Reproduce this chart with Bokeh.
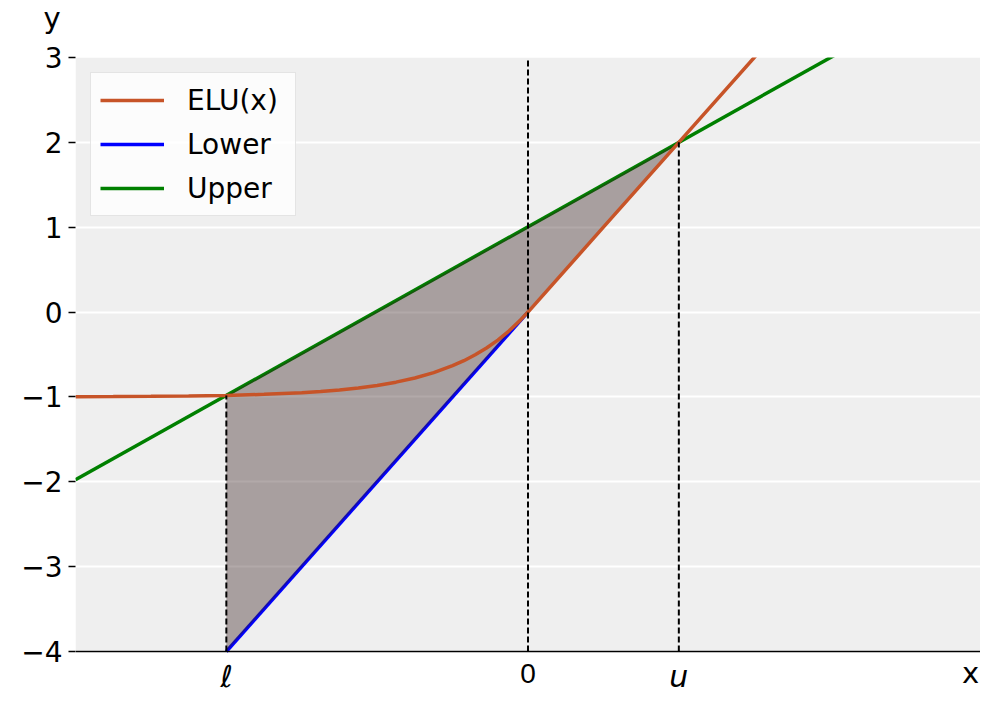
from bokeh.plotting import figure
from bokeh.models import (Range1d, LinearAxis, FixedTicker, Label, Legend, LegendItem,
                          Span, Title)
from bokeh.embed import file_html
from bokeh.resources import INLINE

# ---- data ----
elu_x = [-6.0, -5.5, -5.0, -4.5, -4.0, -3.5, -3.0, -2.75, -2.5, -2.25, -2.0, -1.75,
         -1.5, -1.25, -1.0, -0.85, -0.7, -0.55, -0.4, -0.25, -0.1, 0.0, 1.0, 2.0, 3.0, 6.0]
elu_y = [-0.998, -0.996, -0.993, -0.989, -0.982, -0.970, -0.950, -0.936, -0.918, -0.895,
         -0.865, -0.826, -0.777, -0.713, -0.632, -0.573, -0.503, -0.423, -0.330, -0.221,
         -0.095, 0.0, 1.0, 2.0, 3.0, 6.0]
lower_x = [-4.0, 0.0]
lower_y = [-4.0, 0.0]
upper_x = [-6.0, 6.0]
upper_y = [-1.976, 3.988]
shade_x = [-4.0, -4.0, 2.0]
shade_y = [-4.0, -0.982, 2.0]
vline_x = [-4.0, 0.0, 2.0]
vline_y0 = [-4.0, -4.0, -4.0]
vline_y1 = [-0.982, 3.0, 2.0]
xtick_values = [-4.0, 0.0, 2.0]
xtick_labels = ["ℓ", "0", "u"]
ytick_values = [-4, -3, -2, -1, 0, 1, 2, 3]
ytick_labels = ["−4", "−3", "−2", "−1", "0", "1", "2", "3"]
x_min, x_max = -6.0, 6.0
y_min, y_max = -4.0, 3.0

# frame extends below y_min so that the x tick texts sit inside it
y_pad_below = 0.507

p = figure(width=980, height=694, output_backend="svg", toolbar_location=None,
           x_range=Range1d(x_min, x_max), y_range=Range1d(y_min - y_pad_below, y_max),
           x_axis_location=None, y_axis_location=None,
           min_border_left=75, min_border_top=57, min_border_right=0, min_border_bottom=0)
p.outline_line_color = None
p.background_fill_color = "white"
p.border_fill_color = "white"

# grey plotting area
p.quad(left=[x_min], right=[x_max], bottom=[y_min], top=[y_max],
       fill_color="#efefef", line_color=None, level="image")

yax = LinearAxis(ticker=FixedTicker(ticks=ytick_values),
                 major_label_overrides={v: s for v, s in zip(ytick_values, ytick_labels)})
yax.axis_line_color = None
yax.major_tick_line_color = "black"
yax.major_tick_line_width = 1.5
yax.major_tick_out = 7
yax.major_tick_in = 0
yax.minor_tick_line_color = None
yax.major_label_standoff = 6
yax.major_label_text_font = "DejaVu Sans"
yax.major_label_text_font_size = "28px"
yax.major_label_text_color = "black"
p.add_layout(yax, "left")

p.xgrid.visible = False
p.ygrid.ticker = FixedTicker(ticks=ytick_values)
p.ygrid.grid_line_color = "white"
p.ygrid.grid_line_width = 2

# x axis line
p.add_layout(Span(location=y_min, dimension="width", line_color="black", line_width=1.5))

r_up = p.line(upper_x, upper_y, line_color="#008000", line_width=3.5)
r_lo = p.line(lower_x, lower_y, line_color="#0000ff", line_width=3.5)
p.patch(shade_x, shade_y, fill_color="#341d1d", fill_alpha=0.38, line_color=None)
r_elu = p.line(elu_x, elu_y, line_color="#c75428", line_width=3.5)
p.segment(x0=vline_x, y0=vline_y0, x1=vline_x, y1=vline_y1,
          line_color="black", line_width=2, line_dash="6 3")

legend = Legend(items=[LegendItem(label="ELU(x)", renderers=[r_elu]),
                       LegendItem(label="Lower", renderers=[r_lo]),
                       LegendItem(label="Upper", renderers=[r_up])],
                location="top_left", margin=15, padding=9, spacing=8,
                label_height=36, glyph_height=36, glyph_width=64, label_standoff=23,
                label_width=99,
                label_text_font="DejaVu Sans", label_text_font_size="28px",
                label_text_color="black",
                border_line_color="#cccccc", border_line_width=1.5,
                background_fill_color="white", background_fill_alpha=0.8)
p.add_layout(legend)

for v, s in zip(xtick_values, xtick_labels):
    italic = s != "0"
    p.add_layout(Label(x=v, y=y_min, x_units="data", y_units="data",
                       y_offset=-25 if italic else -22,
                       text=s, text_align="center", text_baseline="alphabetic",
                       text_font="DejaVu Sans" if italic else "Liberation Sans",
                       text_font_style="italic" if italic else "normal",
                       text_font_size="30px" if italic else "28px", text_color="black"))

p.add_layout(Label(x=x_max, y=y_min, x_units="data", y_units="data", x_offset=-10,
                   y_offset=-22, text="x", text_align="center", text_baseline="alphabetic",
                   text_font="DejaVu Sans", text_font_size="29px", text_color="black"))

# spacer panel (closest to the frame), then the "y" axis title above it
p.add_layout(Title(text=" ", standoff=18, text_font_size="1px"), "above")
p.add_layout(Title(text="y", align="left", offset=-32, standoff=0, vertical_align="top",
                   text_font="DejaVu Sans", text_font_size="29px",
                   text_font_style="normal", text_color="black"), "above")

open("out.html", "w").write(file_html(p, INLINE))
